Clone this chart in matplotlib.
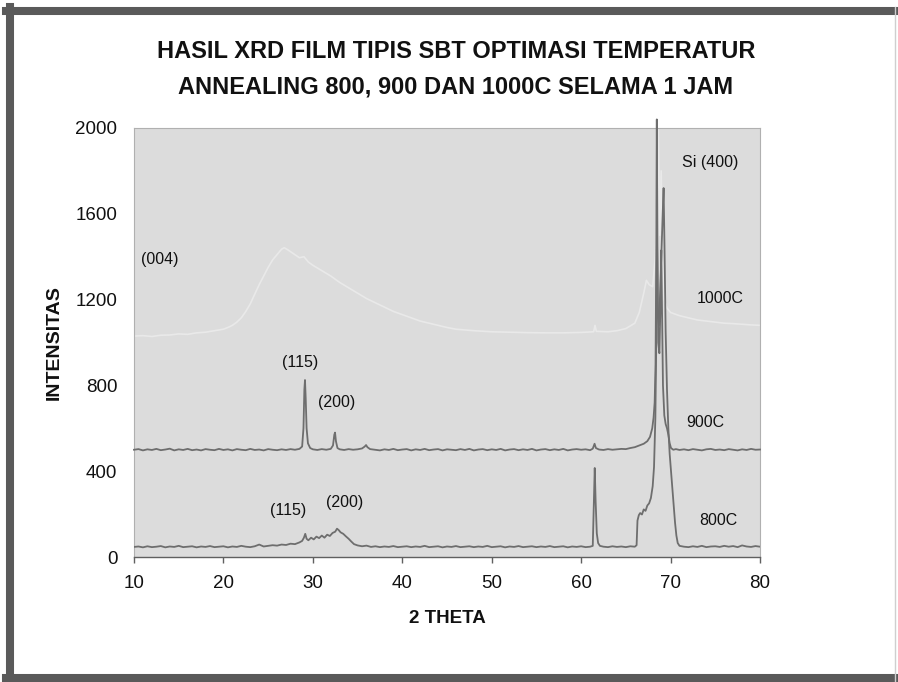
import matplotlib
matplotlib.use('Agg')
import matplotlib.pyplot as plt
from matplotlib.lines import Line2D

plt.rcParams['font.family'] = ['Liberation Sans', 'DejaVu Sans']

# ── data ──
x800 = [10, 10.5, 11, 11.5, 12, 12.5, 13, 13.5, 14, 14.5, 15, 15.5, 16, 16.5, 17, 17.5, 18, 18.5,
        19, 19.5, 20, 20.5, 21, 21.5, 22, 22.5, 23, 23.5, 24, 24.5, 25, 25.5, 26, 26.5, 27, 27.5,
        28, 28.5, 28.8, 29.0, 29.15, 29.3, 29.5, 29.8, 30.1, 30.4, 30.7, 31.0, 31.3, 31.6, 31.9,
        32.2, 32.5, 32.7, 32.9, 33.1, 33.4, 33.7, 34.0, 34.3, 34.6, 35, 35.5, 36, 36.5, 37, 37.5,
        38, 38.5, 39, 39.5, 40, 40.5, 41, 41.5, 42, 42.5, 43, 43.5, 44, 44.5, 45, 45.5, 46, 46.5,
        47, 47.5, 48, 48.5, 49, 49.5, 50, 50.5, 51, 51.5, 52, 52.5, 53, 53.5, 54, 54.5, 55, 55.5,
        56, 56.5, 57, 57.5, 58, 58.5, 59, 59.5, 60, 60.5, 61, 61.3, 61.42, 61.52, 61.62, 61.75,
        61.9, 62.1, 62.5, 63, 63.5, 64, 64.5, 65, 65.5, 66, 66.2, 66.3, 66.45, 66.6, 66.8, 67.0,
        67.2, 67.4, 67.6, 67.8, 68.0, 68.15, 68.3, 68.4, 68.48, 68.56, 68.7, 68.85, 69.0, 69.12,
        69.22, 69.32, 69.45, 69.6, 69.75, 69.9, 70.05, 70.2, 70.35, 70.5, 70.65, 70.8, 71.0, 71.5,
        72, 72.5, 73, 73.5, 74, 74.5, 75, 75.5, 76, 76.5, 77, 77.5, 78, 78.5, 79, 79.5, 80]
y800 = [47, 49, 45, 50, 46, 48, 51, 45, 49, 47, 52, 46, 48, 50, 45, 49, 47, 51,
        46, 48, 50, 45, 49, 47, 52, 48, 46, 50, 58, 49, 52, 55, 53, 58, 56, 62,
        60, 68, 75, 90, 108, 85, 78, 90, 82, 95, 88, 100, 90, 104, 98,
        112, 118, 132, 125, 115, 108, 96, 85, 72, 60, 54, 50, 53, 47, 50, 46,
        49, 47, 51, 46, 48, 50, 46, 49, 47, 52, 46, 48, 50, 45, 49, 47, 51, 46,
        48, 50, 46, 49, 47, 52, 46, 48, 50, 45, 49, 47, 51, 46, 48, 50, 46, 49,
        47, 51, 46, 48, 50, 45, 49, 47, 50, 46, 48, 52, 250, 415, 260, 110,
        65, 52, 48, 46, 50, 47, 49, 46, 50, 48, 55, 170, 195, 205, 198, 222,
        215, 240, 250, 275, 330, 420, 650, 1000, 1500, 1150, 1080, 1250, 1450, 1600,
        1720, 1450, 1050, 780, 600, 480, 400, 320, 240, 160, 100, 65, 52, 48,
        46, 50, 47, 52, 46, 49, 50, 47, 52, 48, 51, 46, 54, 49, 47, 51, 48]

x900 = [10, 10.5, 11, 11.5, 12, 12.5, 13, 13.5, 14, 14.5, 15, 15.5, 16, 16.5, 17, 17.5, 18, 18.5,
        19, 19.5, 20, 20.5, 21, 21.5, 22, 22.5, 23, 23.5, 24, 24.5, 25, 25.5, 26, 26.5, 27, 27.5,
        28, 28.5, 28.8, 28.95, 29.05, 29.12, 29.2, 29.3, 29.45, 29.7, 30, 30.5, 31, 31.5, 32,
        32.25, 32.4, 32.48, 32.58, 32.75, 33, 33.5, 34, 34.5, 35, 35.5, 35.8, 35.95, 36.1, 36.4,
        37, 37.5, 38, 38.5, 39, 39.5, 40, 40.5, 41, 41.5, 42, 42.5, 43, 43.5, 44, 44.5, 45, 45.5,
        46, 46.5, 47, 47.5, 48, 48.5, 49, 49.5, 50, 50.5, 51, 51.5, 52, 52.5, 53, 53.5, 54, 54.5,
        55, 55.5, 56, 56.5, 57, 57.5, 58, 58.5, 59, 59.5, 60, 60.5, 61, 61.3, 61.5, 61.65, 62,
        62.5, 63, 63.5, 64, 64.5, 65, 65.5, 66, 66.5, 67, 67.4, 67.7, 67.95, 68.1, 68.22, 68.32,
        68.4, 68.46, 68.52, 68.62, 68.75, 68.88, 68.96, 69.04, 69.15, 69.3, 69.45, 69.6, 69.75,
        69.9, 70.05, 70.3, 70.6, 71, 71.5, 72, 72.5, 73, 73.5, 74, 74.5, 75, 75.5, 76, 76.5, 77,
        77.5, 78, 78.5, 79, 79.5, 80]
y900 = [500, 503, 497, 502, 499, 504, 498, 501, 505, 497, 502, 499, 504, 498, 501, 497, 503, 500,
        498, 504, 499, 502, 497, 503, 500, 498, 504, 499, 501, 497, 503, 500, 498, 502, 499, 503,
        500, 504, 515, 600, 780, 825, 740, 600, 530, 508, 502, 499, 503, 500, 504,
        520, 570, 580, 540, 508, 502, 499, 503, 500, 502, 506, 515, 522, 512, 503,
        500, 497, 502, 499, 504, 498, 501, 503, 497, 502, 499, 504, 498, 501, 503, 497, 502, 500,
        498, 503, 499, 504, 497, 501, 503, 498, 502, 499, 504, 497, 501, 503, 498, 502, 499, 504,
        497, 501, 503, 498, 502, 499, 504, 497, 501, 503, 500, 502, 498, 505, 528, 508, 501,
        499, 503, 500, 502, 504, 503, 508, 512, 520, 528, 540, 560, 600, 650, 720, 900,
        1400, 2040, 1500, 1000, 950, 1200, 1430, 1150, 800, 660, 620, 600, 570,
        530, 508, 500, 503, 499, 502, 498, 503, 500, 497, 502, 504, 499, 501, 498, 503, 500,
        497, 502, 499, 504, 500, 501]

x1000 = [10, 11, 12, 13, 14, 15, 16, 17, 18, 19, 20, 20.5, 21, 21.5, 22, 22.5, 23, 23.5, 24, 24.5,
         25, 25.5, 26, 26.5, 26.8, 27.2, 27.8, 28.5, 29, 29.5, 30, 31, 32, 33, 34, 35, 36, 37, 38,
         39, 40, 41, 42, 43, 44, 45, 46, 48, 50, 52, 54, 56, 58, 60, 61.4, 61.55, 61.7, 63, 64,
         65, 66, 66.5, 67, 67.3, 67.6, 68, 68.3, 68.5, 68.6, 68.7, 68.8, 68.95, 69.1, 69.3, 69.6,
         70, 71, 72, 73, 74, 75, 76, 77, 78, 79, 80]
y1000 = [1030, 1032, 1028, 1034, 1035, 1040, 1038, 1045, 1048, 1055, 1062, 1070, 1080, 1095, 1115,
         1145, 1180, 1225, 1270, 1310, 1350, 1385, 1410, 1435, 1442, 1432, 1415, 1395, 1400, 1375,
         1360, 1335, 1310, 1280, 1255, 1230, 1205, 1185, 1165, 1145, 1130, 1115, 1100, 1090, 1080,
         1070, 1062, 1055, 1050, 1048, 1046, 1045, 1045, 1047, 1050, 1080, 1052, 1050, 1055, 1065,
         1090, 1140, 1230, 1290, 1270, 1260, 1400, 1700, 2100, 1800, 1500, 1800, 1400, 1200, 1160,
         1140, 1125, 1115, 1105, 1100, 1095, 1090, 1088, 1085, 1082, 1080]

# peak labels: (text, 2theta, intensity)
peak_labels = [('(004)', 12.9, 1385), ('Si (400)', 74.4, 1837), ('1000C', 75.5, 1207),
               ('(115)', 28.6, 909), ('(200)', 32.7, 722), ('900C', 73.9, 629),
               ('(115)', 27.2, 219), ('(200)', 33.6, 252), ('800C', 75.3, 168)]

W, H = 898, 682
fig = plt.figure(figsize=(W / 100, H / 100), dpi=100)
fig.patch.set_facecolor('white')

ax = fig.add_axes([134 / W, 1 - 557 / H, (760 - 134) / W, (557 - 128) / H])
ax.set_facecolor('#dcdcdc')

ax.plot(x1000, y1000, color='#e9e9e9', lw=1.2, zorder=2)
ax.plot(x900, y900, color='#6e6e6e', lw=1.3, zorder=3, clip_on=False)
ax.plot(x800, y800, color='#6e6e6e', lw=1.3, zorder=3)

ax.set_xlim(10, 80)
ax.set_ylim(0, 2000)
ax.set_xticks(range(10, 81, 10))
ax.set_yticks(range(0, 2001, 400))
ax.tick_params(axis='x', direction='out', length=4, width=1, color='#606060', pad=9,
               labelsize=13.5, labelcolor='#111111')
ax.tick_params(axis='y', length=0, pad=12, labelsize=13.5, labelcolor='#111111')

for side in ['top', 'right', 'left']:
    ax.spines[side].set_color('#b0b0b0')
    ax.spines[side].set_linewidth(0.8)
ax.spines['bottom'].set_color('#606060')
ax.spines['bottom'].set_linewidth(1.0)

ax.set_xlabel('2 THETA', fontsize=13.5, fontweight='bold', labelpad=13, color='#111111')
ax.set_ylabel('INTENSITAS', fontsize=14, fontweight='bold', labelpad=9, color='#111111')

for txt, px, py in peak_labels:
    ax.text(px, py, txt, ha='center', va='center', fontsize=11.5, color='#111111', zorder=5)

# ── title ──
fig.text(456 / W, 1 - 52 / H, 'HASIL XRD FILM TIPIS SBT OPTIMASI TEMPERATUR',
         ha='center', va='center', fontsize=17, fontweight='bold', color='#111111')
fig.text(456 / W, 1 - 87 / H, 'ANNEALING 800, 900 DAN 1000C SELAMA 1 JAM',
         ha='center', va='center', fontsize=17, fontweight='bold', color='#111111')

# ── outer frame of the scanned chart ──
bc = '#5a5a5a'
fig.add_artist(Line2D([10 / W, 10 / W], [0, 1 - 7 / H], transform=fig.transFigure, color=bc, lw=5.8))
fig.add_artist(Line2D([6 / W, 1], [1 - 11 / H, 1 - 11 / H], transform=fig.transFigure, color=bc, lw=5.8))
fig.add_artist(Line2D([6 / W, 1], [4 / H, 4 / H], transform=fig.transFigure, color=bc, lw=5.8))
fig.add_artist(Line2D([895 / W, 895 / W], [0, 1 - 7 / H], transform=fig.transFigure, color='#cfcfcf', lw=1))

fig.savefig('out.png', dpi=100, facecolor='white')
